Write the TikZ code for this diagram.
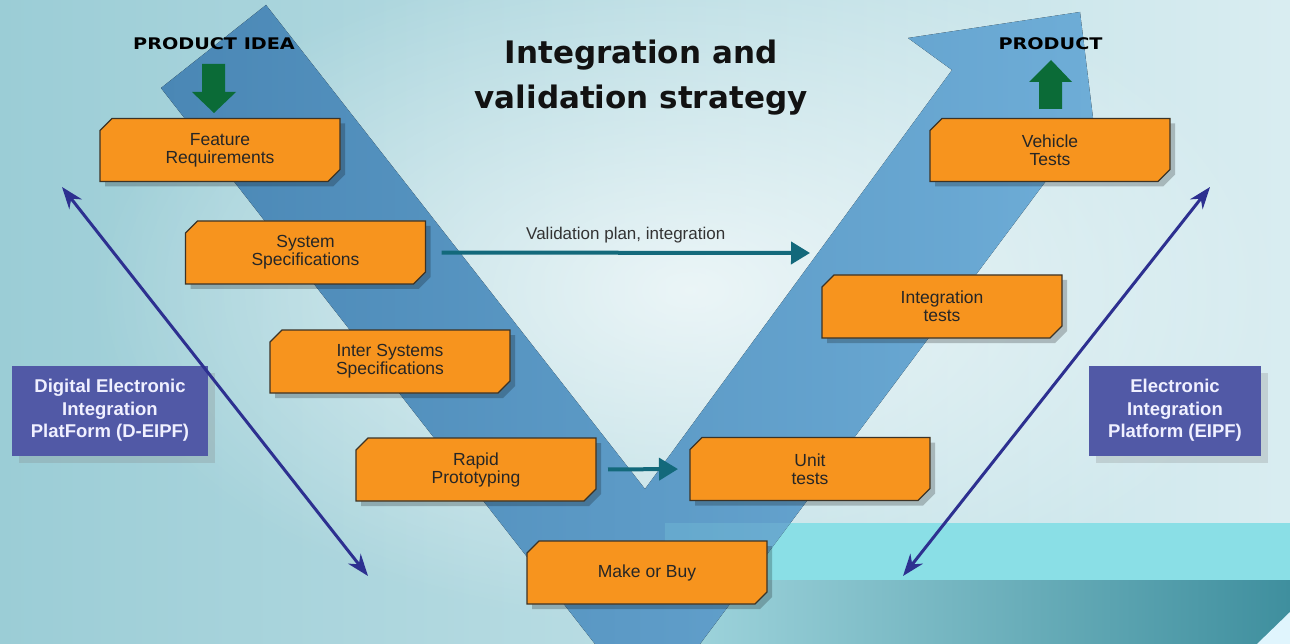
\documentclass[tikz,border=0pt]{standalone}
\usepackage{fontspec}
\setmainfont{Liberation Sans}
\newfontfamily\headfont{DejaVu Sans}
\newfontfamily\markfont[FakeStretch=1.2]{DejaVu Sans}
\usetikzlibrary{arrows.meta, positioning, shadows, fadings}

\definecolor{bgleft}{HTML}{9BCDD6}
\definecolor{bgmid}{HTML}{EAF5F7}
\definecolor{bgright}{HTML}{D9EDF1}
\definecolor{bgteal}{HTML}{6FB3C1}
\definecolor{vdark}{HTML}{4A87B5}
\definecolor{vlight}{HTML}{6EADD7}
\definecolor{boxorange}{HTML}{F7941E}
\definecolor{boxedge}{HTML}{3C3326}
\definecolor{platblue}{HTML}{5159A6}
\definecolor{arrowteal}{HTML}{13697B}
\definecolor{arrowblue}{HTML}{2D3090}
\definecolor{ideagreen}{HTML}{0B6B37}
\definecolor{cyanband}{HTML}{8ADFE6}
\definecolor{deepteal}{HTML}{3F8F9E}

\tikzfading[name=streak, top color=transparent!100, middle color=transparent!30, bottom color=transparent!100]
\tikzfading[name=glow, inner color=transparent!0, outer color=transparent!100]

% name, centre, text
\newcommand*{\taskbox}[3]{%
  \fill[taskshadow] (#2) ++(-115,-14.5) -- ++(12,-12) -- ++(228,0) -- ++(0,51) -- ++(-12,12) -- ++(-228,0) -- cycle;
  \filldraw[taskfill] (#2) ++(-120,-19.5) -- ++(12,-12) -- ++(228,0) -- ++(0,51) -- ++(-12,12) -- ++(-228,0) -- cycle;
  \node[task] (#1) at (#2) {#3};
}

\begin{document}
\begin{tikzpicture}[
        x=1pt, y=-1pt,
        task/.style={minimum width=240pt, minimum height=63pt, inner sep=0pt, outer sep=0pt,
          align=center, text=black!85, font=\fontsize{17.5}{18}\selectfont},
        taskfill/.style={fill=boxorange, draw=boxedge, line width=1.1pt},
        taskshadow/.style={fill=black, opacity=.22},
        platform/.style={fill=platblue, text=white!94!blue, align=center, inner sep=0pt, outer sep=0pt,
          font=\fontsize{18.5}{22.3}\selectfont\bfseries,
          drop shadow={shadow xshift=7pt, shadow yshift=-7pt, opacity=.25}},
        valarrow/.style={draw=arrowteal, line width=4pt, -{Triangle[length=19pt, width=22pt]}},
        platarrow/.style={draw=arrowblue, line width=3pt,
          {Stealth[length=22pt, width=16pt]}-{Stealth[length=22pt, width=16pt]}},
        blockarrow/.style={fill=ideagreen},
        marktext/.style={font=\markfont\bfseries\fontsize{16}{16}\selectfont, inner sep=0pt, anchor=base},
        ]

        \useasboundingbox (0,0) rectangle (1290,644);

        % background
        \fill[left color=bgleft, middle color=bgmid, right color=bgright] (0,0) rectangle (1290,644);
        \fill[white, opacity=.7, path fading=glow] (690,290) ellipse [x radius=600, y radius=340];
        \fill[bgteal, opacity=.5, path fading=streak] (0,0) rectangle (420,70);
        \fill[white, opacity=.5, path fading=streak] (0,108) rectangle (560,152);
        \fill[white, opacity=.5, path fading=streak] (900,372) rectangle (1290,412);
        \fill[white, opacity=.4, path fading=streak] (950,10) rectangle (1290,50);
        \fill[bgteal, opacity=.2, path fading=streak] (0,530) rectangle (430,580);

        \fill[cyanband] (665,523) rectangle (1290,580);
        \fill[left color=cyanband!40!bgteal!70, right color=deepteal] (665,580) rectangle (1290,644);
        \fill[white!88!cyan] (1257,644) -- (1290,612) -- (1290,644) -- cycle;

        % the V
        \fill[left color=vdark, right color=vlight]
          (161,88) -- (266,5) -- (645,489) -- (952,70) -- (908,38) -- (1080,12)
          -- (1093,118) -- (700,644) -- (595,644) -- cycle;
        \fill[cyanband, opacity=.2] (665,523) rectangle (790,580);

        \node[marktext] (idea) at (214,50) {PRODUCT IDEA};
        \node[marktext] (product) at (1050.5,50) {PRODUCT};
        \fill[blockarrow] (202,64) -- (225,64) -- (225,92) -- (236,92) -- (214,113) -- (192,92) -- (202,92) -- cycle;
        \fill[blockarrow] (1039,109) -- (1062,109) -- (1062,82) -- (1072,82) -- (1051,60) -- (1029,82) -- (1039,82) -- cycle;

        \node[align=center, inner sep=0pt, font=\headfont\bfseries\fontsize{31}{45}\selectfont, text=black!93]
          (title) at (641,77.5) {Integration and\\validation strategy};

        \taskbox{feature}{220,150}{Feature\\Requirements}
        \taskbox{sysspec}{305.5,252.5}{System\\Specifications}
        \taskbox{interspec}{390,361.5}{Inter Systems\\Specifications}
        \taskbox{rapid}{476,469.5}{Rapid\\Prototyping}
        \taskbox{makebuy}{647,572.5}{Make or Buy}
        \taskbox{unit}{810,469}{Unit\\tests}
        \taskbox{integ}{942,306.5}{Integration\\tests}
        \taskbox{vehicle}{1050,150}{Vehicle\\Tests}

        \node[platform, minimum width=196pt, minimum height=90pt] (deipf) at (110,410.5)
          {Digital Electronic\\Integration\\PlatForm (D-EIPF)};
        \node[platform, minimum width=172pt, minimum height=90pt] (eipf) at (1175,410.5)
          {Electronic\\Integration\\Platform (EIPF)};

        \coordinate (valend) at (810,253);
        \coordinate (ltop) at (62,187);
        \coordinate (lbot) at (368,576);
        \coordinate (rtop) at (1210,187);
        \coordinate (rbot) at (903,576);

        \draw[valarrow, shorten <=16pt] (sysspec.east) -- (valend)
          node[midway, above=8pt, xshift=8pt, inner sep=0pt, text=black!80, font=\fontsize{17}{17}\selectfont]
          (vallabel) {Validation plan, integration};
        \draw[valarrow, shorten <=12pt, shorten >=12pt] (rapid.east) -- (unit.west);

        \draw[platarrow] (ltop) -- (lbot);
        \draw[platarrow] (rtop) -- (rbot);
      \end{tikzpicture}
\end{document}
